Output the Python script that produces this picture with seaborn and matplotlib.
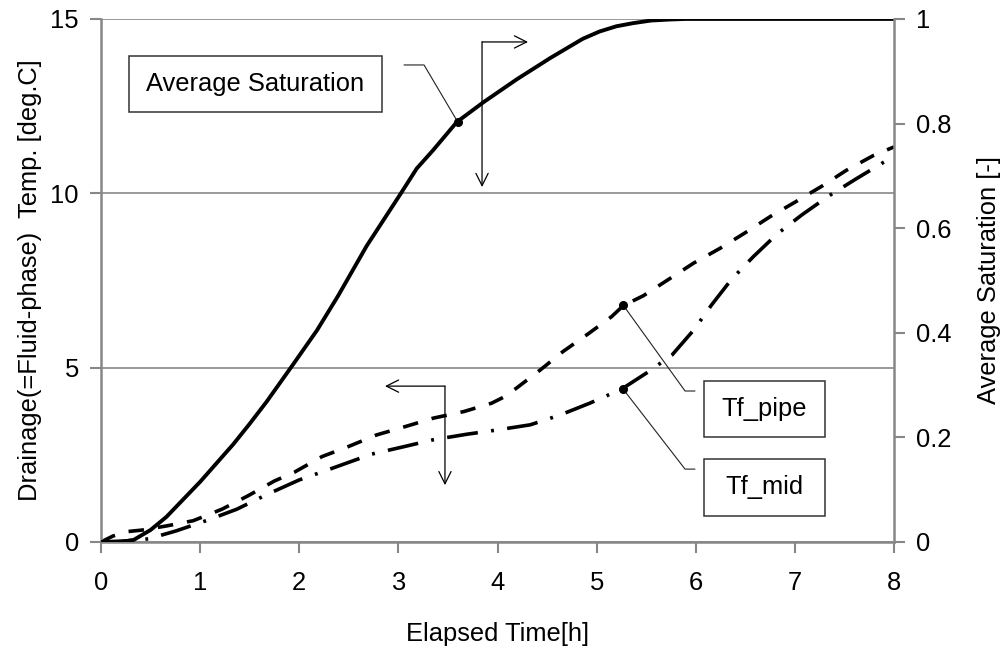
import matplotlib
matplotlib.use('Agg')
import matplotlib.pyplot as plt
from matplotlib.patches import Rectangle
import seaborn as sns
import pandas as pd

# Average saturation (right axis)
sat_time = [0, 0.2, 0.33, 0.5, 0.66, 1.0, 1.335, 1.5, 1.67, 1.94, 2.18, 2.39, 2.68, 3.02,
            3.185, 3.35, 3.59, 3.86, 4.19, 4.53, 4.86, 5.03, 5.2, 5.37, 5.55, 5.75, 5.9, 8.0]
sat_vals = [0, 0.0, 0.004, 0.023, 0.048, 0.115, 0.187, 0.226, 0.268, 0.34, 0.405, 0.47, 0.566, 0.665,
            0.714, 0.749, 0.803, 0.841, 0.884, 0.925, 0.962, 0.976, 0.986, 0.992, 0.997, 0.999, 1.0, 1.0]

# Tf_pipe (left axis)
pipe_time = [0, 0.12, 0.27, 0.41, 0.66, 0.93, 1.22, 1.48, 1.75, 1.95, 2.23, 2.49, 2.78,
             3.07, 3.35, 3.66, 3.94, 4.06, 4.19, 4.43, 4.66, 4.92, 5.15, 5.27, 5.47,
             5.72, 5.98, 6.25, 6.5, 6.75, 7.01, 7.27, 7.52, 7.79, 8.0]
pipe_vals = [0, 0.17, 0.30, 0.34, 0.46, 0.61, 0.94, 1.32, 1.75, 2.0, 2.45, 2.73, 3.07,
             3.31, 3.55, 3.74, 3.98, 4.15, 4.41, 4.93, 5.46, 5.98, 6.46, 6.78, 7.06,
             7.52, 8.0, 8.43, 8.87, 9.33, 9.76, 10.2, 10.66, 11.08, 11.33]

# Tf_mid (left axis)
mid_time = [0, 0.25, 0.48, 0.76, 1.08, 1.37, 1.68, 2.0, 2.28, 2.73, 3.05, 3.35, 3.69,
            3.99, 4.33, 4.63, 4.93, 5.25, 5.5, 5.76, 5.98, 6.16, 6.36, 6.58, 6.82,
            7.07, 7.34, 7.61, 7.89, 8.0]
mid_vals = [0, 0.03, 0.09, 0.32, 0.63, 0.94, 1.37, 1.78, 2.06, 2.52, 2.73, 2.93, 3.09,
            3.21, 3.36, 3.64, 3.98, 4.38, 4.84, 5.36, 6.08, 6.80, 7.53, 8.18, 8.83,
            9.38, 9.92, 10.40, 10.88, 11.05]

x_ticks = [0, 1, 2, 3, 4, 5, 6, 7, 8]
left_ticks = [0, 5, 10, 15]
right_ticks = [0, 0.2, 0.4, 0.6, 0.8, 1.0]
right_labels = ['0', '0.2', '0.4', '0.6', '0.8', '1']

# callout labels: text, box (x0, x1, y0, y1), leader path ending at the marked point (left-axis units)
callouts = [
    ('Average Saturation', (0.282, 2.835, 12.33, 13.94),
     [(3.057, 13.68), (3.259, 13.68), (3.6, 12.04)]),
    ('Tf_pipe', (6.083, 7.304, 3.01, 4.62),
     [(5.992, 4.33), (5.892, 4.33), (5.266, 6.80)]),
    ('Tf_mid', (6.083, 7.304, 0.75, 2.38),
     [(5.992, 2.09), (5.892, 2.09), (5.266, 4.39)]),
]

sns.set_style('white')
plt.rcParams['font.family'] = ['Liberation Sans', 'DejaVu Sans']
plt.rcParams['text.color'] = 'black'
plt.rcParams['axes.labelcolor'] = 'black'

grey = '#878787'
fs = 18.4
fig, ax = plt.subplots(figsize=(10, 6.53), dpi=100)
fig.subplots_adjust(left=0.101, right=0.894, bottom=0.170, top=0.971)

pipe_df = pd.DataFrame({'t': pipe_time, 'v': pipe_vals})
mid_df = pd.DataFrame({'t': mid_time, 'v': mid_vals})
sat_df = pd.DataFrame({'t': sat_time, 'v': sat_vals})

sns.lineplot(data=pipe_df, x='t', y='v', ax=ax, color='black', lw=2.6,
             linestyle=(0, (4.3, 3.9)), estimator=None)
sns.lineplot(data=mid_df, x='t', y='v', ax=ax, color='black', lw=2.6,
             linestyle=(0, (8.6, 3.7, 0.8, 3.7)), estimator=None)

ax.set_xlim(0, 8)
ax.set_ylim(0, 15)
ax.set_xticks(x_ticks)
ax.set_yticks(left_ticks)
ax.yaxis.grid(True, color=grey, lw=1.2)
ax.set_axisbelow(True)
for s in ['left', 'bottom']:
    ax.spines[s].set_color(grey)
    ax.spines[s].set_linewidth(1.8)
ax.spines['top'].set_visible(False)
ax.spines['right'].set_visible(False)
ax.tick_params(axis='both', direction='out', length=8, width=1.5, color=grey,
               labelcolor='black', labelsize=fs, bottom=True, left=True)
ax.tick_params(axis='x', pad=13)
ax.tick_params(axis='y', pad=8)
ax.set_xlabel('Elapsed Time[h]', fontsize=fs, labelpad=19)
ax.set_ylabel('Drainage(=Fluid-phase)  Temp. [deg.C]', fontsize=fs, labelpad=6)

ax2 = ax.twinx()
sns.lineplot(data=sat_df, x='t', y='v', ax=ax2, color='black', lw=2.8, estimator=None)
ax2.set_ylim(0, 1)
ax2.set_xlim(0, 8)
ax2.set_yticks(right_ticks)
ax2.set_yticklabels(right_labels)
for s in ['left', 'top', 'bottom']:
    ax2.spines[s].set_visible(False)
ax2.spines['right'].set_color(grey)
ax2.spines['right'].set_linewidth(1.8)
ax2.tick_params(axis='y', direction='out', length=8, width=1.5, color=grey,
                labelcolor='black', labelsize=fs, right=True, pad=8)
ax2.set_ylabel('Average Saturation [-]', fontsize=fs, labelpad=18)

# callout boxes and leader lines (drawn in left-axis coordinates on top)
for text, (x0, x1, y0, y1), path in callouts:
    ax2.add_patch(Rectangle((x0, y0), x1 - x0, y1 - y0, transform=ax.transData,
                            facecolor='white', edgecolor='#333333', lw=1.1, zorder=5))
    ax2.text((x0 + x1) / 2, (y0 + y1) / 2, text, transform=ax.transData,
             ha='center', va='center', fontsize=fs, zorder=6)
    xs = [p[0] for p in path]
    ys = [p[1] for p in path]
    ax2.plot(xs, ys, color='#222222', lw=0.8, transform=ax.transData, zorder=5)
    ax2.plot(xs[-1], ys[-1], 'o', color='black', ms=5.5, transform=ax.transData, zorder=6)

# axis-pointer arrows
arrow_kw = dict(arrowstyle='->', lw=0.9, color='black', shrinkA=0, shrinkB=0,
                mutation_scale=22)
ax.annotate('', xy=(4.308, 14.34), xytext=(3.844, 14.34), arrowprops=arrow_kw)
ax.annotate('', xy=(3.844, 10.18), xytext=(3.844, 14.34), arrowprops=arrow_kw)
ax.annotate('', xy=(2.865, 4.47), xytext=(3.47, 4.47), arrowprops=arrow_kw)
ax.annotate('', xy=(3.47, 1.63), xytext=(3.47, 4.47), arrowprops=arrow_kw)

fig.savefig('out.png', dpi=100)
